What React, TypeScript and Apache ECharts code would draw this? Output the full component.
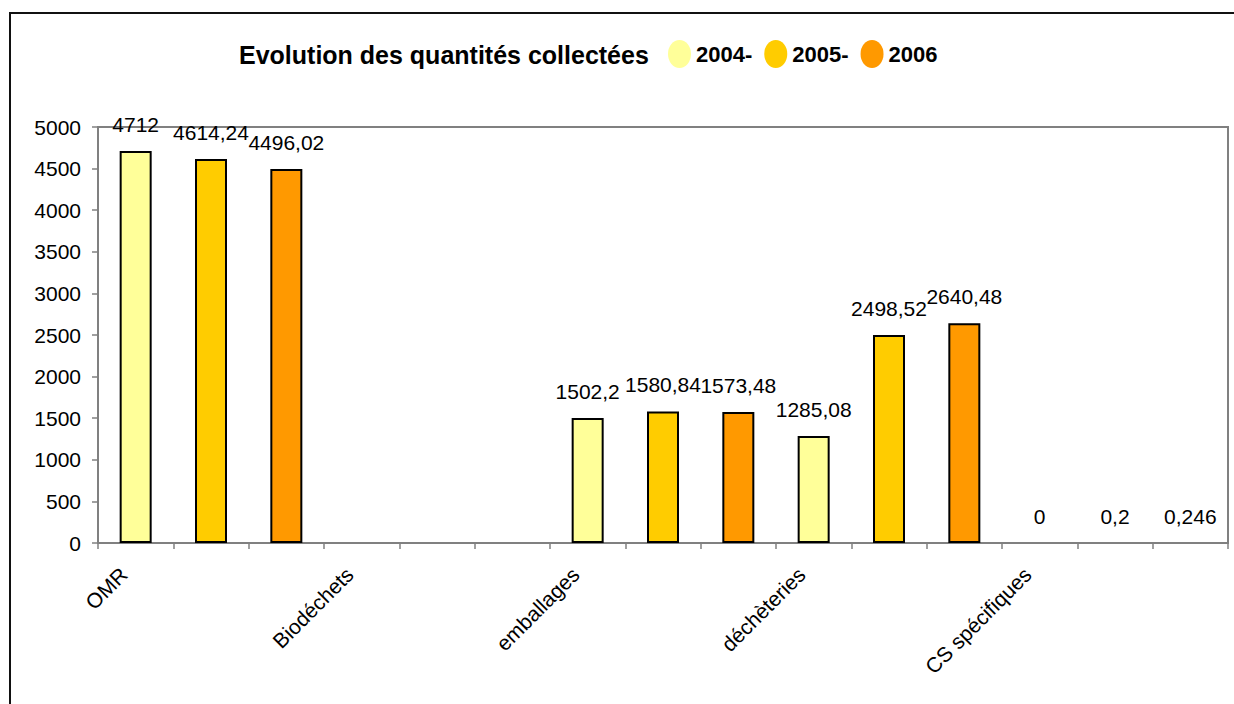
import React, { useEffect, useRef } from "react";
import * as echarts from "echarts";

const groups = ["OMR", "Biodéchets", "emballages", "déchèteries", "CS spécifiques"];
const years = ["2004-", "2005-", "2006"];
const v2004: (number | null)[] = [4712, null, 1502.2, 1285.08, 0];
const v2005: (number | null)[] = [4614.24, null, 1580.84, 2498.52, 0.2];
const v2006: (number | null)[] = [4496.02, null, 1573.48, 2640.48, 0.246];
const yTicks = { min: 0, max: 5000, interval: 500 };
const colors = ["#FFFF99", "#FFCC00", "#FF9900"];
const titleText = "Evolution des quantités collectées";

const FONT = "'Liberation Sans', Arial, sans-serif";
const ELLIPSE = "path://M1,0A1,1,0,1,1,-1,0A1,1,0,1,1,1,0Z";

export default function App() {
  const ref = useRef<HTMLDivElement>(null);
  useEffect(() => {
    document.body.style.margin = "0";
    if (!ref.current) return;
    const chart = echarts.init(ref.current, undefined, { renderer: "svg" });

    const cats: string[] = [];
    groups.forEach((g) => {
      for (let k = 0; k < 3; k++) cats.push(g + "#" + k);
    });
    const all = [v2004, v2005, v2006];
    const seriesData = all.map((vals, yi) => {
      const arr: any[] = [];
      groups.forEach((g, gi) => {
        for (let k = 0; k < 3; k++) {
          const v = vals[gi];
          if (k === yi && v !== null) {
            arr.push(v < 1 ? { value: v, itemStyle: { borderWidth: 0 } } : v);
          } else {
            arr.push("-");
          }
        }
      });
      return arr;
    });

    chart.setOption({
      animation: false,
      backgroundColor: "#fff",
      title: {
        text: titleText,
        left: 239,
        top: 42,
        padding: 0,
        textStyle: { fontFamily: FONT, fontSize: 25, fontWeight: "bold", color: "#000" },
      },
      legend: {
        left: 668,
        top: 40,
        padding: 0,
        itemWidth: 23,
        itemHeight: 28,
        itemGap: 12,
        icon: ELLIPSE,
        symbolKeepAspect: false,
        itemStyle: { borderWidth: 0 },
        textStyle: { fontFamily: FONT, fontSize: 22, fontWeight: "bold", color: "#000" },
        data: years,
      },
      grid: {
        left: 98,
        right: 6,
        top: 127,
        bottom: 161,
        show: true,
        borderColor: "#808080",
        borderWidth: 2,
        backgroundColor: "transparent",
      },
      xAxis: {
        type: "category",
        data: cats,
        boundaryGap: true,
        axisLine: { show: true, lineStyle: { color: "#808080", width: 2 } },
        axisTick: { show: true, interval: 0, length: 6, lineStyle: { color: "#808080", width: 1.5 } },
        axisLabel: {
          interval: 0,
          rotate: 45,
          margin: 16,
          padding: [0, 17, 0, 0],
          fontFamily: FONT,
          fontSize: 21,
          color: "#000",
          formatter: (_v: string, idx: number) => (idx % 3 === 0 ? groups[idx / 3] : ""),
        },
        splitLine: { show: false },
      },
      yAxis: {
        type: "value",
        min: yTicks.min,
        max: yTicks.max,
        interval: yTicks.interval,
        axisLine: { show: true, lineStyle: { color: "#808080", width: 2 } },
        axisTick: { show: true, length: 6, lineStyle: { color: "#808080", width: 1.5 } },
        axisLabel: {
          margin: 17,
          fontFamily: FONT,
          fontSize: 21,
          color: "#000",
          formatter: (v: number) => String(v),
        },
        splitLine: { show: false },
      },
      graphic: [
        {
          type: "rect",
          z: -10,
          silent: true,
          shape: { x: 10, y: 13, width: 1400, height: 900 },
          style: { fill: "none", stroke: "#111", lineWidth: 2 },
        },
      ],
      series: years.map((name, yi) => ({
        name,
        type: "bar",
        stack: "all",
        barWidth: 32,
        data: seriesData[yi],
        itemStyle: { color: colors[yi], borderColor: "#000", borderWidth: 2 },
        label: {
          show: true,
          position: "top",
          distance: 16,
          fontFamily: FONT,
          fontSize: 21,
          color: "#000",
          formatter: (p: any) => String(p.value).replace(".", ","),
        },
      })),
    });
    return () => chart.dispose();
  }, []);
  return <div ref={ref} style={{ position: "absolute", left: 0, top: 0, width: 1234, height: 704 }} />;
}
